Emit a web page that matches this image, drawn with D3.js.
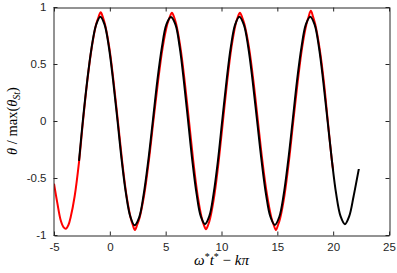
<!DOCTYPE html>
<html><head><meta charset="utf-8">
<script src="https://cdn.jsdelivr.net/npm/d3@7"></script>
<style>body{margin:0;background:#fff}svg{display:block}</style>
</head><body>
<script>
// Data
const blackX = [-2.76,-2.42,-2.03,-1.64,-1.24,-0.85,-0.47,-0.08,0.30,0.69,1.07,1.45,1.84,2.22,2.63,3.03,3.44,3.85,4.25,4.66,5.06,5.47,5.88,6.26,6.63,7.01,7.39,7.77,8.14,8.52,8.91,9.29,9.68,10.06,10.45,10.83,11.22,11.60,12.00,12.40,12.79,13.19,13.59,13.99,14.38,14.78,15.18,15.57,15.97,16.37,16.76,17.16,17.55,17.95,18.34,18.73,19.11,19.50,19.89,20.27,20.66,21.05,21.44,21.83,22.30];
const blackY = [-0.35,0.0,0.35,0.64,0.84,0.915,0.845,0.645,0.35,0.0,-0.35,-0.64,-0.84,-0.915,-0.845,-0.645,-0.35,0.0,0.35,0.645,0.845,0.912,0.845,0.645,0.35,0.0,-0.35,-0.64,-0.835,-0.905,-0.835,-0.64,-0.35,0.0,0.35,0.645,0.845,0.915,0.845,0.645,0.35,0.0,-0.35,-0.645,-0.84,-0.912,-0.84,-0.645,-0.35,0.0,0.35,0.645,0.845,0.915,0.845,0.645,0.35,0.0,-0.35,-0.64,-0.835,-0.905,-0.835,-0.66,-0.42];
const redX = [-5.0,-4.7,-4.4,-4.15,-3.93,-3.7,-3.5,-3.15,-2.76,-2.4,-2.02,-1.62,-1.22,-1.02,-0.82,-0.62,-0.44,-0.05,0.33,0.72,1.10,1.48,1.87,2.05,2.25,2.45,2.66,3.08,3.49,3.90,4.32,4.73,5.15,5.36,5.56,5.76,5.94,6.32,6.70,7.09,7.47,7.85,8.23,8.41,8.61,8.81,8.99,9.37,9.75,10.13,10.51,10.89,11.27,11.45,11.65,11.85,12.05,12.46,12.86,13.26,13.66,14.07,14.47,14.67,14.87,15.07,15.26,15.65,16.04,16.43,16.83,17.22,17.61,17.80,18.00,18.20,18.39,18.77,19.16,19.52,19.89,20.00];
const redY = [-0.55,-0.72,-0.87,-0.93,-0.945,-0.91,-0.84,-0.66,-0.36,0.0,0.35,0.645,0.85,0.91,0.953,0.91,0.85,0.645,0.35,0.0,-0.35,-0.645,-0.85,-0.91,-0.956,-0.91,-0.85,-0.645,-0.35,0.0,0.35,0.645,0.85,0.91,0.95,0.91,0.85,0.645,0.35,0.0,-0.35,-0.645,-0.85,-0.91,-0.95,-0.91,-0.85,-0.645,-0.35,0.0,0.35,0.645,0.85,0.91,0.95,0.91,0.85,0.645,0.35,0.0,-0.35,-0.645,-0.85,-0.91,-0.956,-0.91,-0.85,-0.645,-0.35,0.0,0.35,0.645,0.85,0.915,0.967,0.915,0.85,0.645,0.35,0.0,-0.35,-0.43];
const xTicks = [-5,0,5,10,15,20,25];
const yTicks = [-1,-0.5,0,0.5,1];
const yTickLabels = ["-1","-0.5","0","0.5","1"];
const xTickLabels = ["-5","0","5","10","15","20","25"];

const W = 397, H = 273;
const m = {left:54, right:8, top:7, bottom:38};
const svg = d3.select("body").append("svg").attr("width",W).attr("height",H);
const x = d3.scaleLinear().domain([-5,25]).range([m.left, W-m.right]);
const y = d3.scaleLinear().domain([-1,1]).range([H-m.bottom, m.top]);
const axisColor = "#262626";
const font = "'Liberation Sans', Arial, sans-serif";

svg.append("clipPath").attr("id","c").append("rect")
  .attr("x",x(-5)).attr("y",y(1)-2).attr("width",x(25)-x(-5)).attr("height",y(-1)-y(1)+4);

const line = d3.line().x(d=>x(d[0])).y(d=>y(d[1])).curve(d3.curveCatmullRom.alpha(0.5));
const g = svg.append("g").attr("clip-path","url(#c)");
g.append("path").datum(redX.map((v,i)=>[v,redY[i]]))
  .attr("d",line).attr("fill","none").attr("stroke","#ff0000").attr("stroke-width",2);
g.append("path").datum(blackX.map((v,i)=>[v,blackY[i]]))
  .attr("d",line).attr("fill","none").attr("stroke","#000").attr("stroke-width",2);

// axes (box style with inward ticks)
const tl = 4;
const xb = d3.axisBottom(x).tickValues(xTicks).tickSizeInner(-tl).tickSizeOuter(0).tickPadding(7)
  .tickFormat((d,i)=>xTickLabels[i]);
const xt = d3.axisTop(x).tickValues(xTicks).tickSizeInner(-tl).tickSizeOuter(0).tickFormat("");
const yl = d3.axisLeft(y).tickValues(yTicks).tickSizeInner(-tl).tickSizeOuter(0).tickPadding(7)
  .tickFormat((d,i)=>yTickLabels[i]);
const yr = d3.axisRight(y).tickValues(yTicks).tickSizeInner(-tl).tickSizeOuter(0).tickFormat("");
function style(sel){
  sel.selectAll("path").attr("stroke",axisColor).attr("stroke-width",1);
  sel.selectAll("line").attr("stroke",axisColor).attr("stroke-width",1);
  sel.selectAll("text").attr("fill",axisColor).style("font-family",font).style("font-size","11.5px");
}
svg.append("g").attr("transform",`translate(0,${y(-1)+0.5})`).call(xb).call(style);
svg.append("g").attr("transform",`translate(0,${y(1)+0.5})`).call(xt).call(style);
svg.append("g").attr("transform",`translate(${x(-5)-0.5},0)`).call(yl).call(style);
svg.append("g").attr("transform",`translate(${x(25)+0.5},0)`).call(yr).call(style);

// x label: ω*t* − kπ
const mathFont = "'Liberation Serif','DejaVu Serif',serif";
const xl = svg.append("text").attr("x",(x(-5)+x(25))/2).attr("y",265)
  .attr("text-anchor","middle").style("font-family",mathFont).style("font-size","15px").attr("fill","#000");
xl.append("tspan").style("font-style","italic").text("ω");
xl.append("tspan").attr("dy",-5).style("font-size","10px").text("*");
xl.append("tspan").attr("dy",5).style("font-style","italic").text("t");
xl.append("tspan").attr("dy",-5).style("font-size","10px").text("*");
xl.append("tspan").attr("dy",5).text(" − ");
xl.append("tspan").style("font-style","italic").text("kπ");

// y label: θ / max(θ_St)
const ylab = svg.append("text").attr("transform",`translate(17,${(y(1)+y(-1))/2}) rotate(-90)`)
  .attr("text-anchor","middle").style("font-family",mathFont).style("font-size","14.5px").attr("fill","#000");
ylab.append("tspan").style("font-style","italic").text("θ");
ylab.append("tspan").text(" / max(");
ylab.append("tspan").style("font-style","italic").text("θ");
ylab.append("tspan").attr("dy",3).style("font-style","italic").style("font-size","10px").text("St");
ylab.append("tspan").attr("dy",-3).text(")");
</script>
</body></html>
